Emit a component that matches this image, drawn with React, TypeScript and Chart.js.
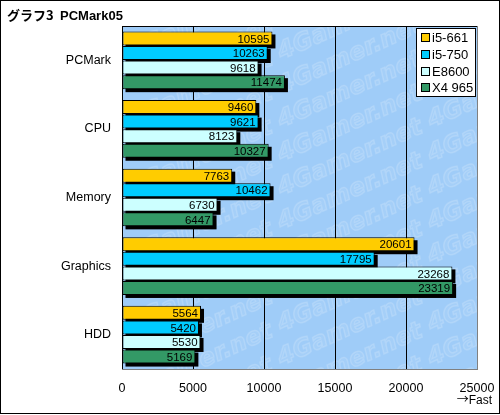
import React, { useEffect, useRef } from "react";
import { Chart, registerables } from "chart.js";

Chart.register(...registerables);

const categories = ["PCMark", "CPU", "Memory", "Graphics", "HDD"];
const seriesNames = ["i5-661", "i5-750", "E8600", "X4 965"];
const i5_661 = [10595, 9460, 7763, 20601, 5564];
const i5_750 = [10263, 9621, 10462, 17795, 5420];
const e8600 = [9618, 8123, 6730, 23268, 5530];
const x4_965 = [11474, 10327, 6447, 23319, 5169];
const seriesColors = ["#FFCC00", "#00CCFF", "#CCFFFF", "#339966"];
const xMin = 0;
const xMax = 25000;
const xStep = 5000;
const titleJa = "グラフ3";
const titleEn = "PCMark05";
const axisArrow = "→";
const axisNote = "Fast";
const watermark = "4Gamer.net";

const PLOT_BG = "#9fccf8";
const FONT = "'Liberation Sans', Arial, sans-serif";

const decor = {
  id: "decor",
  beforeDraw(chart: any) {
    const { ctx, chartArea: a } = chart;
    ctx.save();
    ctx.fillStyle = "#ffffff";
    ctx.fillRect(0, 0, chart.width, chart.height);
    ctx.fillStyle = PLOT_BG;
    ctx.fillRect(a.left, a.top, a.right - a.left, a.bottom - a.top);
    // faint watermark pattern
    ctx.beginPath();
    ctx.rect(a.left, a.top, a.right - a.left, a.bottom - a.top);
    ctx.clip();
    ctx.font = `bold italic 24px 'DejaVu Sans', sans-serif`;
    ctx.textAlign = "left";
    ctx.textBaseline = "middle";
    ctx.strokeStyle = "rgba(255,255,255,0.16)";
    ctx.fillStyle = "rgba(255,255,255,0.07)";
    ctx.lineWidth = 1.5;
    for (let cx = a.left - 150; cx < a.right + 150; cx += 150) {
      for (let cy = a.top - 40; cy < a.bottom + 80; cy += 34) {
        ctx.save();
        ctx.translate(cx + 7, cy);
        ctx.rotate(-0.42);
        ctx.fillText(watermark, 0, 0);
        ctx.strokeText(watermark, 0, 0);
        ctx.restore();
      }
    }
    ctx.restore();
  },
  beforeDatasetsDraw(chart: any) {
    const { ctx } = chart;
    ctx.save();
    ctx.fillStyle = "#000000";
    chart.data.datasets.forEach((_ds: any, i: number) => {
      const meta = chart.getDatasetMeta(i);
      meta.data.forEach((el: any) => {
        const { x, y, base, height } = el.getProps(["x", "y", "base", "height"], true);
        const left = Math.min(x, base);
        const w = Math.abs(x - base);
        ctx.fillRect(left + 3, y - height / 2 + 3, w, height);
      });
    });
    ctx.restore();
  },
  afterDatasetsDraw(chart: any) {
    const { ctx } = chart;
    ctx.save();
    ctx.fillStyle = "#000000";
    ctx.font = `11.5px ${FONT}`;
    ctx.textAlign = "right";
    ctx.textBaseline = "middle";
    chart.data.datasets.forEach((ds: any, i: number) => {
      const meta = chart.getDatasetMeta(i);
      meta.data.forEach((el: any, j: number) => {
        const { x, y } = el.getProps(["x", "y"], true);
        ctx.fillText(String(ds.data[j]), x - 3, y + 1);
      });
    });
    ctx.restore();
  },
  afterDraw(chart: any) {
    const { ctx, chartArea: a } = chart;
    ctx.save();
    ctx.fillStyle = "#000000";
    ctx.fillRect(a.left, a.top, a.right - a.left, 1);
    ctx.fillStyle = "#808080";
    ctx.fillRect(a.left, a.bottom, a.right - a.left + 1, 1);

    // legend
    const lx = 416, ly = 28, lw = 59, lh = 68;
    ctx.fillStyle = "#ffffff";
    ctx.fillRect(lx, ly, lw, lh);
    ctx.strokeStyle = "#000000";
    ctx.lineWidth = 1;
    ctx.strokeRect(lx + 0.5, ly + 0.5, lw, lh);
    ctx.font = `13px ${FONT}`;
    ctx.textAlign = "left";
    ctx.textBaseline = "middle";
    chart.data.datasets.forEach((ds: any, i: number) => {
      const cy = Math.round(37 + i * 16.8);
      ctx.fillStyle = ds.backgroundColor;
      ctx.fillRect(421, cy - 4, 8, 8);
      ctx.strokeRect(421.5, cy - 3.5, 8, 8);
      ctx.fillStyle = "#000000";
      ctx.fillText(ds.label, 432, cy + 1);
    });

    // title
    ctx.fillStyle = "#000000";
    ctx.textBaseline = "alphabetic";
    ctx.font = `bold 13px 'Noto Sans CJK JP', ${FONT}`;
    ctx.fillText(titleJa, 7, 20);
    ctx.font = `bold 13px ${FONT}`;
    ctx.fillText(titleEn, 60, 20);

    // axis note
    ctx.textAlign = "right";
    ctx.font = `12px ${FONT}`;
    ctx.fillText(axisNote, 492, 404);
    const fw = ctx.measureText(axisNote).width;
    ctx.font = `12px 'Noto Sans CJK JP'`;
    ctx.fillText(axisArrow, 492 - fw, 404);

    // outer frame
    ctx.strokeStyle = "#000000";
    ctx.strokeRect(0.5, 0.5, 499, 413);
    ctx.restore();
  },
};

export default function App() {
  const ref = useRef<HTMLCanvasElement>(null);
  useEffect(() => {
    document.body.style.margin = "0";
    const seriesData = [i5_661, i5_750, e8600, x4_965];
    const chart = new Chart(ref.current as HTMLCanvasElement, {
      type: "bar",
      data: {
        labels: categories,
        datasets: seriesNames.map((name, i) => ({
          label: name,
          data: seriesData[i],
          backgroundColor: seriesColors[i],
          borderColor: "#000000",
          borderWidth: 1,
          borderSkipped: false,
          categoryPercentage: 0.85,
          barPercentage: 0.96,
        })),
      },
      options: {
        indexAxis: "y",
        responsive: false,
        animation: false,
        devicePixelRatio: 1,
        layout: { padding: { top: 26, left: 0, right: 23, bottom: 0 } },
        plugins: {
          legend: { display: false },
          tooltip: { enabled: false },
        },
        scales: {
          x: {
            type: "linear",
            position: "bottom",
            min: xMin,
            max: xMax,
            ticks: {
              stepSize: xStep,
              padding: 12,
              color: "#000000",
              font: { family: FONT, size: 12.5 },
              maxRotation: 0,
              callback: (v: any) => String(v),
            },
            grid: {
              drawTicks: false,
              color: (c: any) => (c.tick && c.tick.value === xMax ? "#808080" : "#000000"),
              lineWidth: 1,
            },
            border: { display: false },
            afterFit: (s: any) => {
              s.height = 46;
              s.paddingLeft = 0;
              s.paddingRight = 0;
            },
          },
          y: {
            type: "category",
            ticks: {
              padding: 11,
              color: "#000000",
              font: { family: FONT, size: 12.5 },
            },
            grid: { display: false, drawTicks: false },
            border: { display: false },
            afterFit: (s: any) => {
              s.width = 122;
              s.paddingTop = 0;
              s.paddingBottom = 0;
            },
          },
        },
      },
      plugins: [decor],
    } as any);
    return () => chart.destroy();
  }, []);
  return (
    <div style={{ width: 500, height: 415 }}>
      <canvas ref={ref} width={500} height={415} style={{ display: "block" }} />
    </div>
  );
}
